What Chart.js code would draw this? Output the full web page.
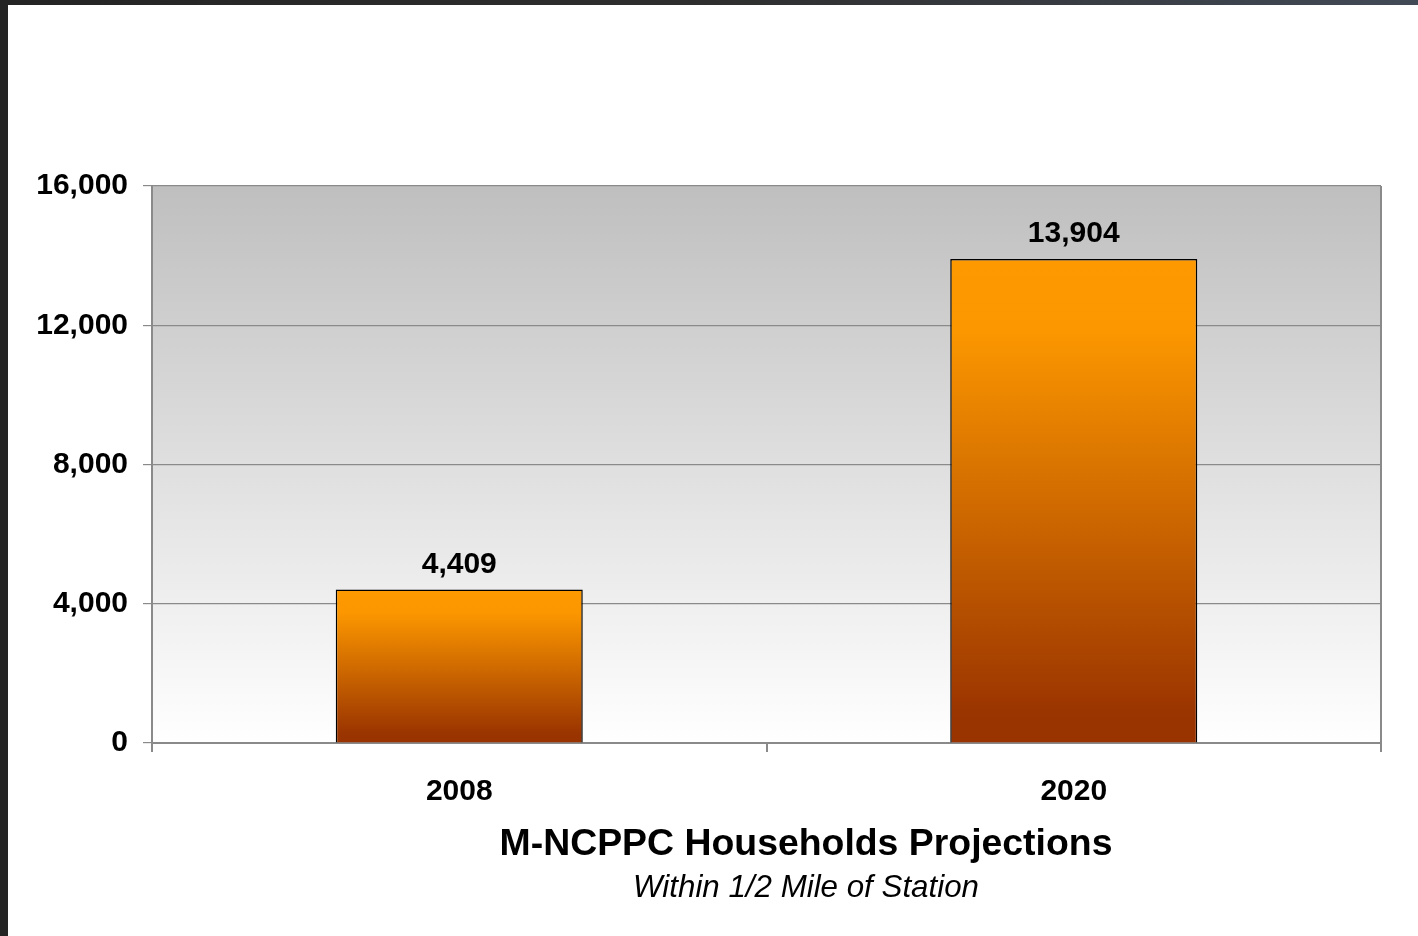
<!DOCTYPE html>
<html>
<head>
<meta charset="utf-8">
<script src="https://cdn.jsdelivr.net/npm/chart.js@4/dist/chart.umd.min.js"></script>
<style>
  html, body { margin: 0; padding: 0; }
  body { width: 1418px; height: 936px; overflow: hidden; background: linear-gradient(to right, #242424 0%, #2e2e2e 50%, #424a56 100%); position: relative; }
  #wrap { position: absolute; left: 8px; top: 5px; width: 1410px; height: 931px; background: #ffffff; }
  canvas { display: block; }
</style>
</head>
<body>
<div id="wrap"><canvas id="c" width="1410" height="931"></canvas></div>
<script>
const categories = ['2008', '2020'];
const households = [4409, 13904];
const yTicks = [0, 4000, 8000, 12000, 16000];
const chartTitle = 'M-NCPPC Households Projections';
const chartSubtitle = 'Within 1/2 Mile of Station';

const FONT = '"Liberation Sans", Arial, sans-serif';
const GRID = '#8a8a8a';

const bgPlugin = {
  id: 'plotBg',
  beforeDraw(chart) {
    const { ctx, chartArea: a } = chart;
    if (!a) return;
    const g = ctx.createLinearGradient(0, a.top, 0, a.bottom);
    g.addColorStop(0, '#bfbfbf');
    g.addColorStop(1, '#ffffff');
    ctx.save();
    ctx.fillStyle = g;
    ctx.fillRect(a.left, a.top, a.right - a.left, a.bottom - a.top);
    ctx.restore();
  }
};

const labelPlugin = {
  id: 'valueLabels',
  afterDatasetsDraw(chart) {
    const { ctx } = chart;
    const meta = chart.getDatasetMeta(0);
    ctx.save();
    ctx.font = 'bold 30px ' + FONT;
    ctx.fillStyle = '#000';
    ctx.textAlign = 'center';
    ctx.textBaseline = 'middle';
    meta.data.forEach((el, i) => {
      const v = chart.data.datasets[0].data[i];
      ctx.fillText(v.toLocaleString('en-US'), el.x, el.y - 25);
    });
    ctx.restore();
  },
  afterDraw(chart) {
    const { ctx } = chart;
    ctx.save();
    ctx.fillStyle = '#000';
    ctx.textAlign = 'center';
    ctx.textBaseline = 'middle';
    ctx.font = 'bold 37.4px ' + FONT;
    ctx.fillText(chartTitle, 798, 840);
    ctx.font = 'italic 31.3px ' + FONT;
    ctx.fillText(chartSubtitle, 798, 883);
    ctx.restore();
  }
};

new Chart(document.getElementById('c'), {
  type: 'bar',
  data: {
    labels: categories,
    datasets: [{
      data: households,
      backgroundColor(context) {
        const chart = context.chart;
        const { chartArea, scales } = chart;
        if (!chartArea) return '#ff9900';
        const top = scales.y.getPixelForValue(context.raw);
        const bottom = scales.y.getPixelForValue(0);
        const g = chart.ctx.createLinearGradient(0, top, 0, bottom);
        g.addColorStop(0, '#ff9900');
        g.addColorStop(0.15, '#fc9700');
        g.addColorStop(0.95, '#993300');
        g.addColorStop(1, '#993300');
        return g;
      },
      borderColor: '#000000',
      borderWidth: 1.5,
      borderSkipped: 'bottom',
      barPercentage: 0.402,
      categoryPercentage: 1.0
    }]
  },
  options: {
    responsive: false,
    animation: false,
    devicePixelRatio: 1,
    layout: { padding: { left: 0, top: 181, right: 37, bottom: 133 } },
    plugins: { legend: { display: false }, tooltip: { enabled: false }, title: { display: false } },
    scales: {
      x: {
        offset: true,
        afterFit(scale) { scale.height = 60; },
        grid: {
          offset: true,
          drawOnChartArea: true,
          color(ctx) { return ctx.index === 1 ? 'rgba(0,0,0,0)' : GRID; },
          tickColor: GRID,
          tickLength: 9,
          lineWidth: 2
        },
        border: { color: GRID, width: 2 },
        ticks: { color: '#000', font: { family: FONT, size: 30, weight: 'bold' }, padding: 22, maxRotation: 0 }
      },
      y: {
        min: 0,
        max: 16000,
        afterFit(scale) { scale.width = 144; },
        afterBuildTicks(scale) { scale.ticks = yTicks.map(v => ({ value: v })); },
        grid: { color: GRID, lineWidth: 1.2, tickColor: GRID, tickLength: 9 },
        border: { color: GRID, width: 2 },
        ticks: {
          color: '#000',
          font: { family: FONT, size: 30, weight: 'bold' },
          padding: 15,
          callback(v) { return Number(v).toLocaleString('en-US'); }
        }
      }
    }
  },
  plugins: [bgPlugin, labelPlugin]
});
</script>
</body>
</html>
